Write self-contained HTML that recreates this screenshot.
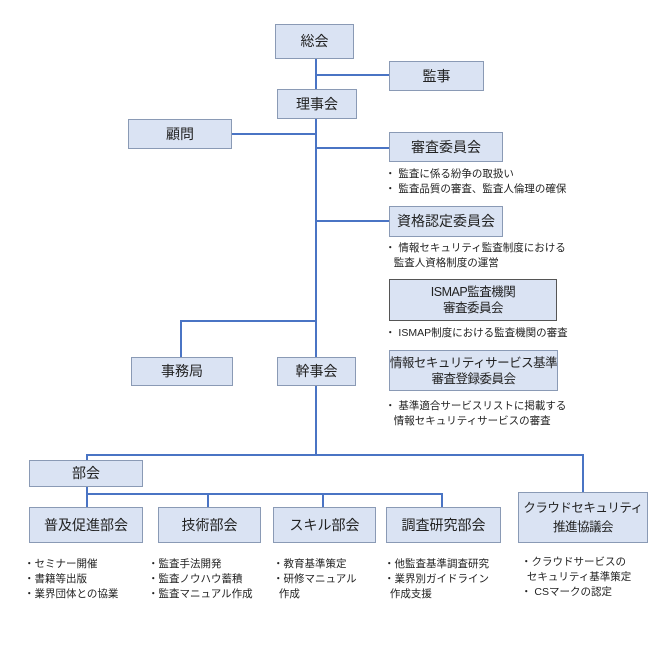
<!DOCTYPE html>
<html><head><meta charset="utf-8"><style>
body{margin:0;background:#fff;width:670px;height:657px;position:relative;overflow:hidden;font-family:"Liberation Sans","Noto Sans CJK JP",sans-serif;color:#222}
.b{position:absolute;box-sizing:border-box;background:#dae3f3;border:1.5px solid #8a9ab5;display:flex;align-items:center;justify-content:center;text-align:center;font-size:14px;line-height:17px;white-space:nowrap}
.s{font-size:12.5px;line-height:16px;letter-spacing:-0.5px}
.t{position:absolute;font-size:10.5px;line-height:15px;white-space:nowrap;color:#222}
svg{position:absolute;left:0;top:0}
</style></head><body>
<svg width="670" height="657"><g stroke="#4a74c4" stroke-width="2" fill="none">
<line x1="316" y1="58" x2="316" y2="455"/>
<line x1="316" y1="75" x2="389" y2="75"/>
<line x1="231" y1="134" x2="316" y2="134"/>
<line x1="316" y1="148" x2="389" y2="148"/>
<line x1="316" y1="221" x2="389" y2="221"/>
<polyline points="316,321 181,321 181,357"/>
<polyline points="87,465 87,455 583,455 583,492"/>
<line x1="87" y1="486" x2="87" y2="494"/>
<polyline points="87,507 87,494 442,494 442,507"/>
<line x1="208" y1="494" x2="208" y2="507"/>
<line x1="323" y1="494" x2="323" y2="507"/>
</g></svg>
<div class="b" style="left:275px;top:24px;width:79px;height:35px">総会</div>
<div class="b" style="left:389px;top:61px;width:95px;height:30px">監事</div>
<div class="b" style="left:277px;top:89px;width:80px;height:30px">理事会</div>
<div class="b" style="left:128px;top:119px;width:104px;height:30px">顧問</div>
<div class="b" style="left:389px;top:132px;width:114px;height:30px">審査委員会</div>
<div class="t" style="left:385px;top:167px">・ 監査に係る紛争の取扱い<br>・ 監査品質の審査、監査人倫理の確保</div>
<div class="b" style="left:389px;top:206px;width:114px;height:31px">資格認定委員会</div>
<div class="t" style="left:385px;top:241px">・ 情報セキュリティ監査制度における<br>&nbsp;&nbsp;&nbsp;監査人資格制度の運営</div>
<div class="b s" style="left:389px;top:279px;width:168px;height:42px;border-color:#555">ISMAP監査機関<br>審査委員会</div>
<div class="t" style="left:385px;top:326px">・ ISMAP制度における監査機関の審査</div>
<div class="b s" style="left:389px;top:350px;width:169px;height:41px">情報セキュリティサービス基準<br>審査登録委員会</div>
<div class="t" style="left:385px;top:399px">・ 基準適合サービスリストに掲載する<br>&nbsp;&nbsp;&nbsp;情報セキュリティサービスの審査</div>
<div class="b" style="left:131px;top:357px;width:102px;height:29px">事務局</div>
<div class="b" style="left:277px;top:357px;width:79px;height:29px">幹事会</div>
<div class="b" style="left:29px;top:460px;width:114px;height:27px">部会</div>
<div class="b" style="left:29px;top:507px;width:114px;height:36px">普及促進部会</div>
<div class="b" style="left:158px;top:507px;width:103px;height:36px">技術部会</div>
<div class="b" style="left:273px;top:507px;width:103px;height:36px">スキル部会</div>
<div class="b" style="left:386px;top:507px;width:115px;height:36px">調査研究部会</div>
<div class="b s" style="left:518px;top:492px;width:130px;height:51px;line-height:19px">クラウドセキュリティ<br>推進協議会</div>
<div class="t" style="left:24px;top:557px">・セミナー開催<br>・書籍等出版<br>・業界団体との協業</div>
<div class="t" style="left:148px;top:557px">・監査手法開発<br>・監査ノウハウ蓄積<br>・監査マニュアル作成</div>
<div class="t" style="left:273px;top:557px">・教育基準策定<br>・研修マニュアル<br>&nbsp;&nbsp;作成</div>
<div class="t" style="left:384px;top:557px">・他監査基準調査研究<br>・業界別ガイドライン<br>&nbsp;&nbsp;作成支援</div>
<div class="t" style="left:521px;top:555px">・クラウドサービスの<br>&nbsp;&nbsp;セキュリティ基準策定<br>・ CSマークの認定</div>
</body></html>
